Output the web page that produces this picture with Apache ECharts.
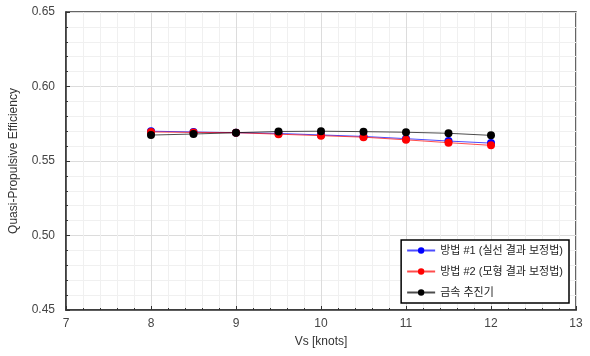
<!DOCTYPE html>
<html><head><meta charset="utf-8">
<script src="https://cdn.jsdelivr.net/npm/echarts@6/dist/echarts.min.js"></script>
<style>html,body{margin:0;padding:0;background:#fff}#c{width:590px;height:356px}</style>
</head><body><div id="c"></div>
<script>
const speeds = [8, 8.5, 9, 9.5, 10, 10.5, 11, 11.5, 12];
const method1 = [0.5700, 0.5695, 0.5690, 0.5685, 0.5675, 0.5665, 0.5650, 0.5634, 0.5620];
const method2 = [0.5695, 0.5692, 0.5690, 0.5680, 0.5670, 0.5660, 0.5642, 0.5623, 0.5605];
const metal   = [0.5674, 0.5681, 0.5690, 0.5698, 0.5700, 0.5697, 0.5693, 0.5686, 0.5672];
const names = ['방법 #1 (실선 결과 보정법)', '방법 #2 (모형 결과 보정법)', '금속 추진기'];
const colors = ['#0000ff', '#ff0000', '#000000'];
const FONT = 'Liberation Sans, Noto Sans CJK KR, sans-serif';
const chart = echarts.init(document.getElementById('c'));
const series = [method1, method2, metal].map((d, i) => ({
  name: names[i], type: 'line',
  data: speeds.map((x, j) => [x, d[j]]),
  symbol: 'circle', symbolSize: 8,
  itemStyle: {color: colors[i]},
  lineStyle: {color: colors[i], width: 1, opacity: 0.7},
  z: 2 + i
}));
chart.setOption({
  animation: false,
  grid: {left: 66, right: 14, top: 12, bottom: 46, show: true, borderColor: '#333', borderWidth: 1.5},
  xAxis: {
    type: 'value', min: 7, max: 13, interval: 1,
    name: 'Vs [knots]', nameLocation: 'middle', nameGap: 26,
    nameTextStyle: {fontFamily: FONT, fontSize: 12, color: '#333'},
    axisLine: {lineStyle: {color: '#333', width: 1.5}},
    axisTick: {inside: true, length: 4, lineStyle: {color: '#333'}},
    minorTick: {show: true, splitNumber: 5, length: 2, lineStyle: {color: '#333'}},
    axisLabel: {fontFamily: FONT, fontSize: 12, color: '#444', margin: 8},
    splitLine: {show: true, lineStyle: {color: '#dcdcdc', width: 1}},
    minorSplitLine: {show: true, lineStyle: {color: '#f0f0f0', width: 1}}
  },
  yAxis: {
    type: 'value', min: 0.45, max: 0.65, interval: 0.05,
    name: 'Quasi-Propulsive Efficiency', nameLocation: 'middle', nameGap: 46,
    nameTextStyle: {fontFamily: FONT, fontSize: 12, color: '#333'},
    axisLine: {lineStyle: {color: '#333', width: 1.5}},
    axisTick: {inside: true, length: 4, lineStyle: {color: '#333'}},
    minorTick: {show: true, splitNumber: 5, length: 2, lineStyle: {color: '#333'}},
    axisLabel: {fontFamily: FONT, fontSize: 12, color: '#444', margin: 11, formatter: v => v.toFixed(2)},
    splitLine: {show: true, lineStyle: {color: '#dcdcdc', width: 1}},
    minorSplitLine: {show: true, lineStyle: {color: '#f0f0f0', width: 1}}
  },
  legend: {
    orient: 'vertical', right: 21, bottom: 53,
    backgroundColor: '#fff', borderColor: '#000', borderWidth: 1.5,
    padding: [5, 6, 5, 5], itemGap: 10, itemWidth: 28, itemHeight: 8,
    textStyle: {fontFamily: FONT, fontSize: 11, color: '#222'},
    data: names
  },
  series: series
});
</script></body></html>
